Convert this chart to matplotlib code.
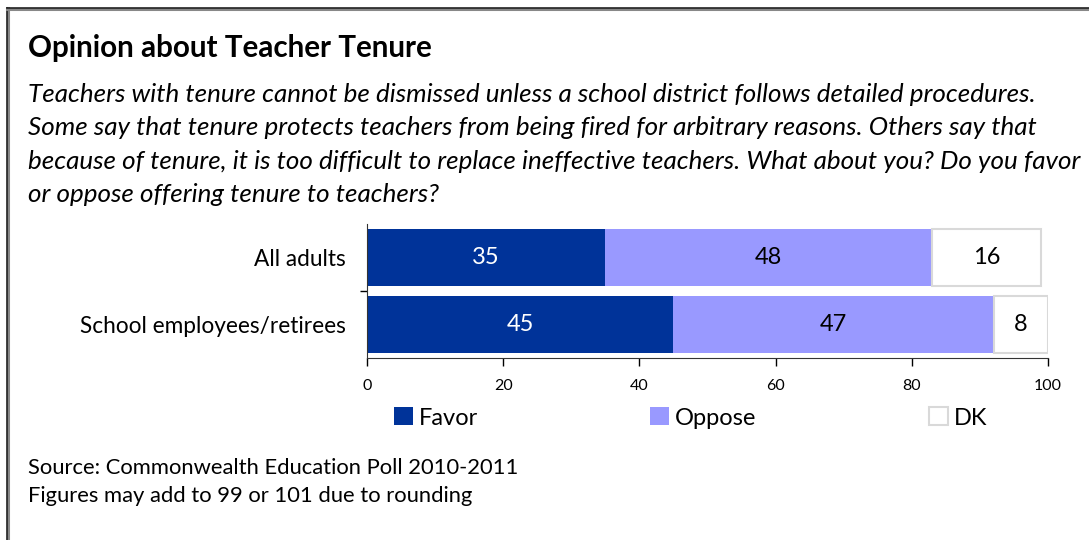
import numpy as np
import matplotlib.pyplot as plt
from matplotlib.patches import Patch
from matplotlib.lines import Line2D

plt.rcParams['font.family'] = ['Lato', 'DejaVu Sans']

# survey results (percent)
groups = ['School employees/retirees', 'All adults']
favor = [45, 35]
oppose = [47, 48]
dk = [8, 16]
answer_labels = ['Favor', 'Oppose', 'DK']

title = 'Opinion about Teacher Tenure'
question = ('Teachers with tenure cannot be dismissed unless a school district follows detailed procedures.\n'
            'Some say that tenure protects teachers from being fired for arbitrary reasons. Others say that\n'
            'because of tenure, it is too difficult to replace ineffective teachers. What about you? Do you favor\n'
            'or oppose offering tenure to teachers?')
notes = ['Source: Commonwealth Education Poll 2010-2011',
         'Figures may add to 99 or 101 due to rounding']

W, H = 1089, 540
fig = plt.figure(figsize=(W / 100, H / 100), dpi=100)

# frame around the whole graphic (open to the right and bottom)
fig.add_artist(Line2D([8 / W, 8 / W], [0, 1 - 8 / H], color='#888888', lw=2.2, transform=fig.transFigure))
fig.add_artist(Line2D([7 / W, 7 / W], [0, 1 - 8 / H], color='#222222', lw=1.2, transform=fig.transFigure))
fig.add_artist(Line2D([7 / W, 1], [1 - 9 / H, 1 - 9 / H], color='#888888', lw=2.2, transform=fig.transFigure))
fig.add_artist(Line2D([7 / W, 1], [1 - 8 / H, 1 - 8 / H], color='#222222', lw=1.2, transform=fig.transFigure))

fig.text(28 / W, 1 - 48 / H, title, fontsize=21.3, fontweight='bold', va='center', ha='left')
fig.text(28 / W, 1 - 83 / H, question, fontsize=18.7, style='italic', va='top', ha='left',
         linespacing=1.55)

ax = fig.add_axes([367 / W, 1 - 358 / H, 681 / W, 134 / H])
y = np.arange(len(groups))
h = 0.85

b1 = ax.barh(y, favor, height=h, color='#003399', label=answer_labels[0])
b2 = ax.barh(y, oppose, left=favor, height=h, color='#9999FF', label=answer_labels[1])
left_dk = np.array(favor) + np.array(oppose)
b3 = ax.barh(y, dk, left=left_dk, height=h, color='white', edgecolor='#D9D9D9', linewidth=1.5,
             label=answer_labels[2])

for bars, vals, col in [(b1, favor, 'white'), (b2, oppose, 'black'), (b3, dk, 'black')]:
    for rect, v in zip(bars, vals):
        ax.text(rect.get_x() + rect.get_width() / 2, rect.get_y() + rect.get_height() / 2, str(v),
                ha='center', va='center', color=col, fontsize=17)

ax.set_xlim(0, 100)
ax.set_ylim(-0.5, 1.5)
ax.set_xticks(np.arange(0, 101, 20))
ax.tick_params(axis='x', labelsize=11.5, length=6, width=1, direction='out', pad=9)
ax.set_yticks(y)
ax.set_yticklabels(groups, fontsize=16.3)
ax.tick_params(axis='y', length=0, pad=15.5)
ax.set_yticks([0.5], minor=True)
ax.tick_params(axis='y', which='minor', length=5, width=1)
for s in ['top', 'right']:
    ax.spines[s].set_visible(False)
for s in ['left', 'bottom']:
    ax.spines[s].set_color('#333333')

handles = [Patch(facecolor='#003399'), Patch(facecolor='#9999FF'),
           Patch(facecolor='white', edgecolor='#D9D9D9', linewidth=1.5)]
fig.legend(handles, answer_labels, ncol=3, loc='center left', bbox_to_anchor=(394 / W, 1 - 418 / H),
           frameon=False, fontsize=17, handlelength=0.8, handleheight=0.8, handletextpad=0.25,
           columnspacing=7.3, borderpad=0, borderaxespad=0)

for i, line in enumerate(notes):
    fig.text(28 / W, 1 - (468 + 28 * i) / H, line, fontsize=15.8, va='center', ha='left')

fig.savefig('out.png', dpi=100, facecolor='white')
